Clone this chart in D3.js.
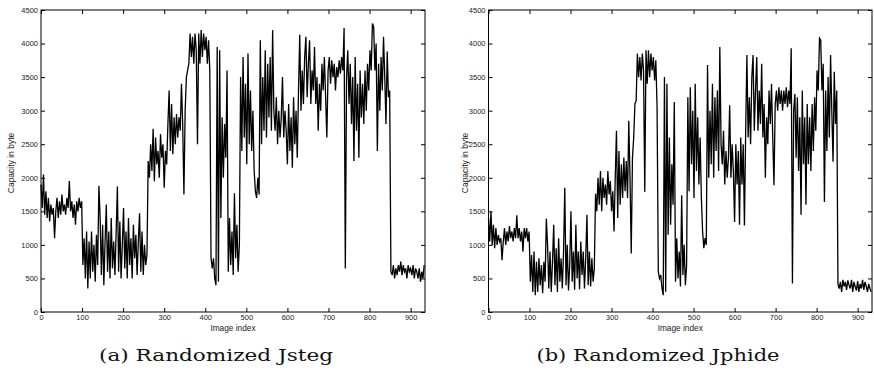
<!DOCTYPE html>
<html>
<head>
<meta charset="utf-8">
<script src="https://cdn.jsdelivr.net/npm/d3@7"></script>
<style>
  body { margin: 0; background: #fff; }
  svg { display: block; }
  .tick text { font-family: "Liberation Sans", Arial, sans-serif; font-size: 7.5px; fill: #222; }
  .tick line { stroke: #000; }
</style>
</head>
<body>
<figure id="chart" style="margin:0"></figure>
<script>
// capacity per image, one value every idxStep images (index 0..933)
const idxStep = 3;

const jstegCap = [
  1900,1550,2050,1450,1800,1400,1700,1350,1600,1450,
  1550,1100,1500,1700,1400,1650,1450,1750,1500,1600,
  1450,1700,1550,1950,1500,1650,1400,1600,1300,1650,
  1500,1700,1550,1650,700,1100,500,1200,350,1050,
  500,1200,600,1000,450,1150,700,1880,1400,550,
  1300,400,1050,1600,600,1200,500,1400,650,1050,
  550,1200,1870,600,1350,500,1000,1550,650,1200,
  500,1400,700,1100,500,1300,800,1150,550,1050,
  1470,600,1200,550,1000,700,850,2250,2000,2500,
  2100,2730,1950,2600,2200,2400,2000,2650,2300,2500,
  1850,2400,2200,2800,3300,2400,3100,2350,2900,2500,
  2950,2600,2900,2700,3400,2800,1750,3000,3500,3600,
  3700,4150,3800,4100,3700,4150,3900,2500,4150,3700,
  4200,3800,4150,3900,4100,3700,4050,3600,800,650,
  800,500,400,3950,450,3900,1400,2900,2000,2800,
  2300,3600,600,1400,700,1200,550,1770,800,1300,
  600,1000,3500,2400,3800,2600,3400,2200,3850,2500,
  3300,2400,3000,2100,1800,1700,2000,1750,4050,2500,
  3500,2700,3900,2600,3700,2900,3800,2700,4200,3000,
  2700,3200,2500,3000,2600,2900,3500,2600,3000,2700,
  2200,3100,2400,2900,2150,3200,2500,3000,2300,3300,
  4130,3000,3600,3100,3800,4100,3200,3700,4050,3100,
  3600,3300,3950,3100,3500,2700,3400,3000,3700,3300,
  3800,3200,2600,3600,3800,3400,3750,3500,3700,3300,
  3650,3500,3750,3550,3800,3600,4230,650,3500,3900,
  3100,3700,2800,3500,2250,3800,2700,3400,2300,3600,
  2900,3400,2800,3600,3000,3700,3300,3900,3600,4300,
  4250,3600,4000,2400,3700,3000,3800,3300,4100,3500,
  2800,3880,3200,3300,600,550,700,500,650,550,
  700,600,750,550,700,600,650,500,700,600,
  650,550,700,500,650,600,500,650,450,600,
  500,700
];

const jphideCap = [
  1400,1050,1500,1000,1300,950,1250,1000,1150,1050,
  1100,770,1050,1250,1000,1200,1050,1280,1100,1200,
  1050,1250,1100,1440,1100,1250,1050,1200,900,1250,
  1100,1250,1050,1200,450,850,300,900,250,750,
  300,800,400,700,280,750,450,1390,1000,350,
  900,300,750,1300,400,950,300,1100,450,800,
  350,900,1850,400,1000,320,700,1500,450,900,
  330,1300,500,900,340,1050,550,900,350,800,
  1450,400,900,380,800,450,650,1760,1500,2000,
  1600,2100,1500,2000,1700,1900,1600,2100,1750,1950,
  1500,1800,1200,2000,2700,1400,2400,1600,2200,1700,
  2300,1800,2250,1700,2850,2000,870,2300,2600,3100,
  3150,3850,3500,3800,3450,3850,3600,1790,3900,3400,
  3900,3500,3850,3600,3800,3450,3750,3050,600,500,
  550,350,250,3500,300,3400,1150,2600,1300,2200,
  1600,3130,450,1100,500,900,380,1740,550,1000,
  400,700,3200,1800,3350,2200,3000,1700,3400,2100,
  2900,1900,2600,1700,1200,950,1100,1000,3680,2000,
  3000,2200,3400,2000,3200,2400,3300,2100,3950,2500,
  2200,2700,1900,2400,2000,2300,3080,2000,2500,2100,
  1340,2500,1900,2400,1300,2600,1900,2500,1290,2700,
  3830,2600,3200,2500,3500,3830,2700,3300,3800,2700,
  3300,2800,3700,2600,3100,2000,2900,2500,3300,2800,
  3400,2600,1890,3100,3300,3000,3350,3100,3300,3000,
  3300,3100,3350,3050,3300,3100,3930,425,3000,3250,
  2300,3200,2100,2900,1450,3300,2200,2900,1600,3100,
  2200,2900,2100,3100,2400,3200,2700,3600,3300,4080,
  4050,3300,3700,1640,3300,2400,3500,2600,3830,3000,
  2240,3580,2800,3300,420,350,450,300,480,380,
  450,330,470,400,350,480,300,450,380,320,
  460,300,420,350,480,330,450,380,300,420,
  350,300
];

const xTicks = [0, 100, 200, 300, 400, 500, 600, 700, 800, 900];
const yTicks = [0, 500, 1000, 1500, 2000, 2500, 3000, 3500, 4000, 4500];
const captions = ["(a) Randomized Jsteg", "(b) Randomized Jphide"];

const width = 874, height = 370;
const svg = d3.select("figure#chart")
  .append("svg")
  .attr("width", width)
  .attr("height", height);

const panels = [
  { data: jstegCap, caption: captions[0], left: 41, right: 425, ylabX: 11, capX: 216, capW: 234 },
  { data: jphideCap, caption: captions[1], left: 488.5, right: 872, ylabX: 465, capX: 658, capW: 243 }
];
const plotTop = 10, plotBottom = 312;

panels.forEach(p => {
  const x = d3.scaleLinear().domain([0, 935]).range([p.left, p.right]);
  const y = d3.scaleLinear().domain([0, 4500]).range([plotBottom, plotTop]);

  // data line
  const line = d3.line()
    .x((d, i) => x(i * idxStep))
    .y(d => y(d));
  svg.append("path")
    .datum(p.data)
    .attr("fill", "none")
    .attr("stroke", "#000")
    .attr("stroke-width", 1.3)
    .attr("d", line);

  // axes, ticks pointing inward on all four sides
  const fmt = d3.format("d");
  const gx = svg.append("g")
    .attr("transform", "translate(0," + plotBottom + ")")
    .call(d3.axisBottom(x).tickValues(xTicks).tickFormat(fmt).tickSizeInner(-4).tickSizeOuter(0).tickPadding(3));
  const gxt = svg.append("g")
    .attr("transform", "translate(0," + plotTop + ")")
    .call(d3.axisTop(x).tickValues(xTicks).tickSizeInner(-4).tickSizeOuter(0).tickFormat(""));
  const gy = svg.append("g")
    .attr("transform", "translate(" + p.left + ",0)")
    .call(d3.axisLeft(y).tickValues(yTicks).tickFormat(fmt).tickSizeInner(-4).tickSizeOuter(0).tickPadding(3));
  const gyr = svg.append("g")
    .attr("transform", "translate(" + p.right + ",0)")
    .call(d3.axisRight(y).tickValues(yTicks).tickSizeInner(-4).tickSizeOuter(0).tickFormat(""));
  [gx, gxt, gy, gyr].forEach(g => g.select(".domain").remove());

  // box
  svg.append("rect")
    .attr("x", p.left)
    .attr("y", plotTop)
    .attr("width", p.right - p.left)
    .attr("height", plotBottom - plotTop)
    .attr("fill", "none")
    .attr("stroke", "#000")
    .attr("stroke-width", 1);

  // axis titles
  svg.append("text")
    .attr("x", (p.left + p.right) / 2)
    .attr("y", 331)
    .attr("text-anchor", "middle")
    .style("font-family", "Liberation Sans, Arial, sans-serif")
    .style("font-size", "8.3px")
    .style("fill", "#222")
    .text("Image index");
  svg.append("text")
    .attr("transform", "translate(" + p.ylabX + ",163)rotate(-90)")
    .attr("text-anchor", "middle")
    .attr("dy", "0.35em")
    .style("font-family", "Liberation Sans, Arial, sans-serif")
    .style("font-size", "8.5px")
    .style("fill", "#222")
    .text("Capacity in byte");

  // caption
  svg.append("text")
    .attr("x", p.capX)
    .attr("y", 361)
    .attr("text-anchor", "middle")
    .attr("textLength", p.capW)
    .attr("lengthAdjust", "spacingAndGlyphs")
    .style("font-family", "DejaVu Serif, serif")
    .style("font-size", "17px")
    .style("fill", "#111")
    .text(p.caption);
});
</script>
</body>
</html>
